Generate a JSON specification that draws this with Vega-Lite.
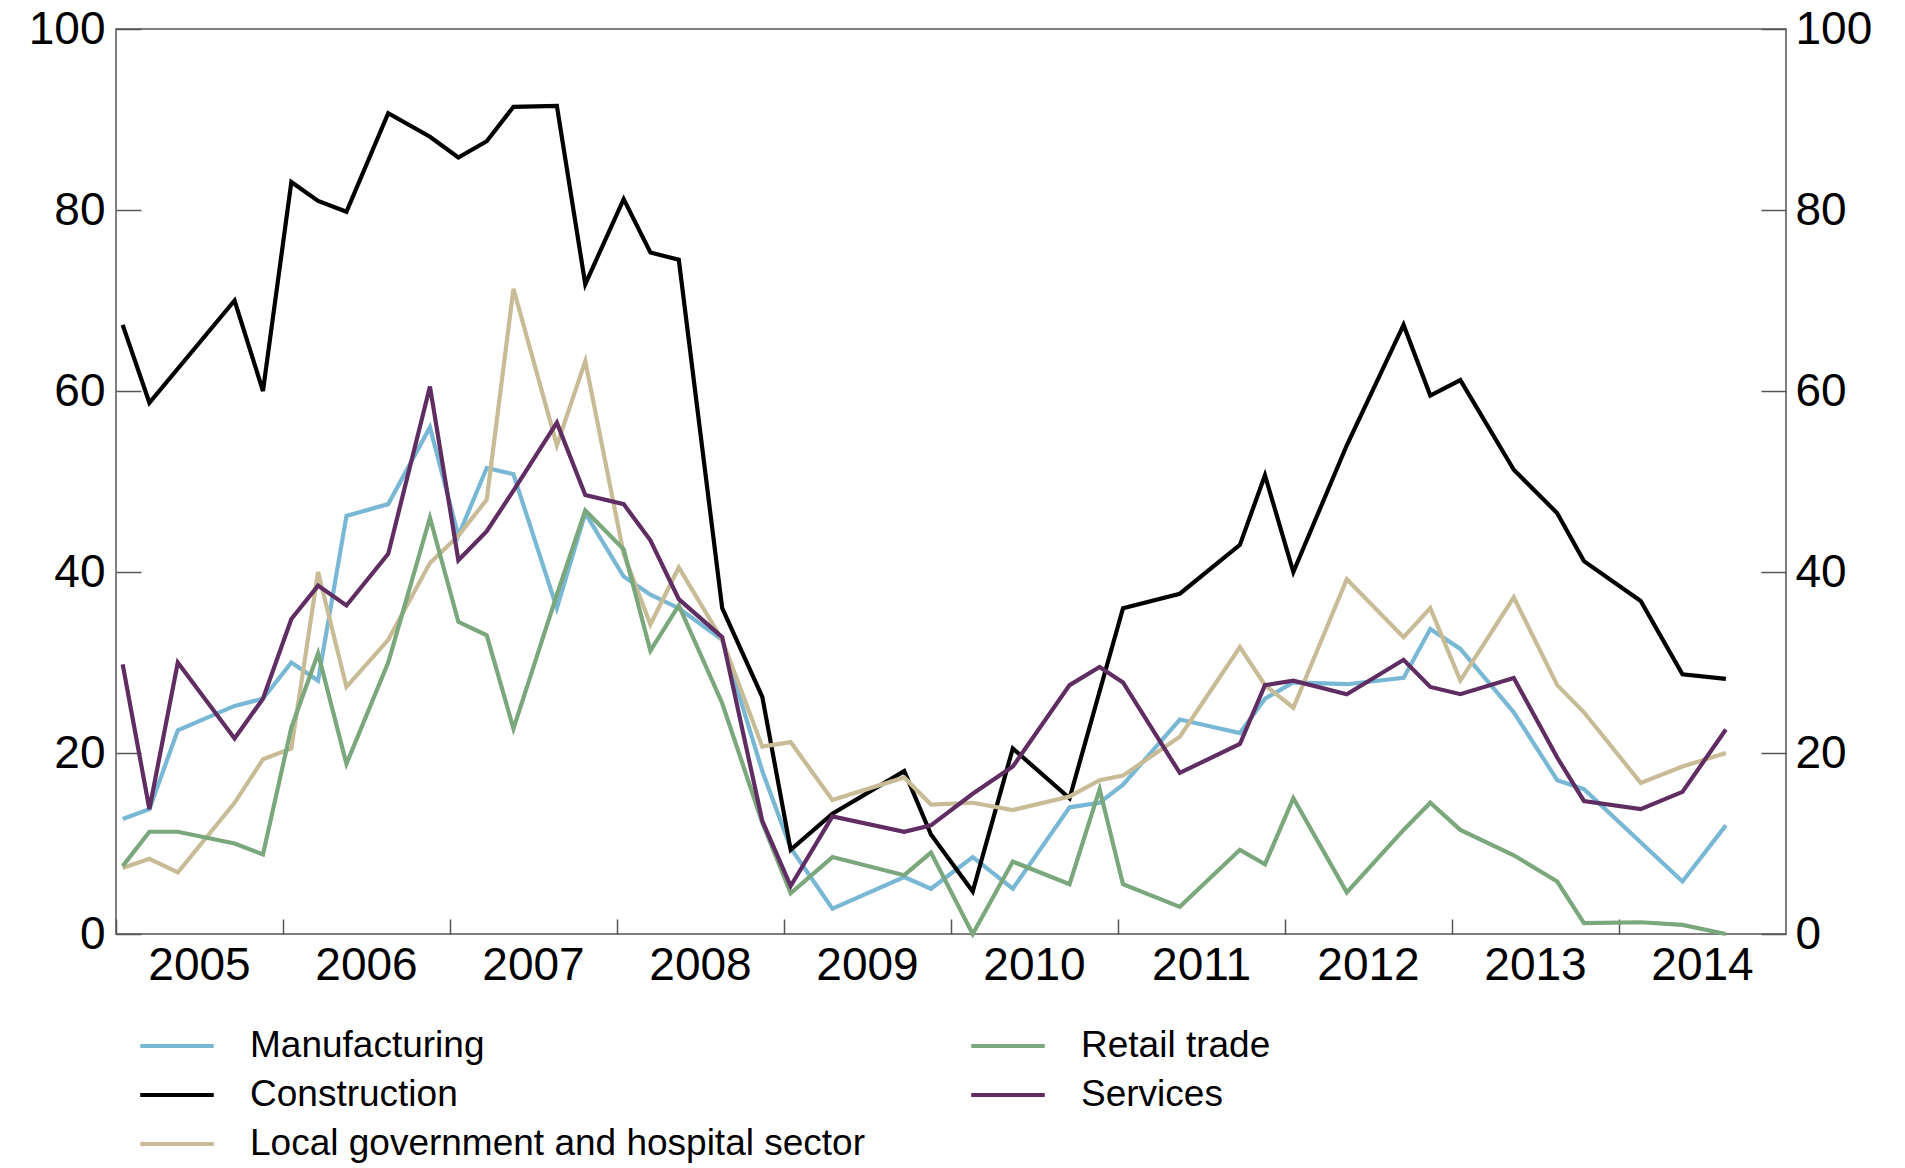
{
  "$schema": "https://vega.github.io/schema/vega-lite/v6.json",
  "width": 1670,
  "height": 905,
  "autosize": "none",
  "padding": {"left": 116, "top": 29, "right": 119, "bottom": 234},
  "config": {
    "font": "Liberation Sans",
    "view": {"stroke": "#555555", "strokeWidth": 1.5},
    "axis": {"grid": false, "domain": false, "labelFont": "Liberation Sans", "labelColor": "#000000", "labelFontSize": 46, "tickColor": "#555555", "tickWidth": 1.5, "title": null}
  },
  "data": {
    "values": [
      {"t": 2005.04, "s": "Manufacturing", "v": 12.7}, {"t": 2005.2, "s": "Manufacturing", "v": 13.8}, {"t": 2005.37, "s": "Manufacturing", "v": 22.5}, {"t": 2005.71, "s": "Manufacturing", "v": 25.2}, {"t": 2005.88, "s": "Manufacturing", "v": 26}, {"t": 2006.05, "s": "Manufacturing", "v": 30}, {"t": 2006.21, "s": "Manufacturing", "v": 28}, {"t": 2006.38, "s": "Manufacturing", "v": 46.2}, {"t": 2006.63, "s": "Manufacturing", "v": 47.5}, {"t": 2006.88, "s": "Manufacturing", "v": 56}, {"t": 2007.05, "s": "Manufacturing", "v": 44}, {"t": 2007.22, "s": "Manufacturing", "v": 51.5}, {"t": 2007.38, "s": "Manufacturing", "v": 50.8}, {"t": 2007.64, "s": "Manufacturing", "v": 36}, {"t": 2007.81, "s": "Manufacturing", "v": 46.5}, {"t": 2008.04, "s": "Manufacturing", "v": 39.5}, {"t": 2008.2, "s": "Manufacturing", "v": 37.5}, {"t": 2008.37, "s": "Manufacturing", "v": 36}, {"t": 2008.63, "s": "Manufacturing", "v": 32.5}, {"t": 2008.87, "s": "Manufacturing", "v": 18}, {"t": 2009.04, "s": "Manufacturing", "v": 9.5}, {"t": 2009.29, "s": "Manufacturing", "v": 2.8}, {"t": 2009.72, "s": "Manufacturing", "v": 6.3}, {"t": 2009.88, "s": "Manufacturing", "v": 5}, {"t": 2010.13, "s": "Manufacturing", "v": 8.5}, {"t": 2010.37, "s": "Manufacturing", "v": 5}, {"t": 2010.71, "s": "Manufacturing", "v": 14}, {"t": 2010.89, "s": "Manufacturing", "v": 14.5}, {"t": 2011.03, "s": "Manufacturing", "v": 16.5}, {"t": 2011.37, "s": "Manufacturing", "v": 23.7}, {"t": 2011.73, "s": "Manufacturing", "v": 22.2}, {"t": 2011.88, "s": "Manufacturing", "v": 26}, {"t": 2012.05, "s": "Manufacturing", "v": 27.8}, {"t": 2012.37, "s": "Manufacturing", "v": 27.6}, {"t": 2012.71, "s": "Manufacturing", "v": 28.3}, {"t": 2012.87, "s": "Manufacturing", "v": 33.7}, {"t": 2013.05, "s": "Manufacturing", "v": 31.5}, {"t": 2013.37, "s": "Manufacturing", "v": 24.5}, {"t": 2013.63, "s": "Manufacturing", "v": 17}, {"t": 2013.79, "s": "Manufacturing", "v": 16}, {"t": 2014.38, "s": "Manufacturing", "v": 5.8}, {"t": 2014.64, "s": "Manufacturing", "v": 12},

      {"t": 2005.04, "s": "Construction", "v": 67.3}, {"t": 2005.2, "s": "Construction", "v": 58.7}, {"t": 2005.71, "s": "Construction", "v": 70}, {"t": 2005.88, "s": "Construction", "v": 60}, {"t": 2006.05, "s": "Construction", "v": 83.1}, {"t": 2006.21, "s": "Construction", "v": 81}, {"t": 2006.38, "s": "Construction", "v": 79.8}, {"t": 2006.63, "s": "Construction", "v": 90.7}, {"t": 2006.88, "s": "Construction", "v": 88.1}, {"t": 2007.05, "s": "Construction", "v": 85.8}, {"t": 2007.22, "s": "Construction", "v": 87.6}, {"t": 2007.38, "s": "Construction", "v": 91.4}, {"t": 2007.64, "s": "Construction", "v": 91.5}, {"t": 2007.81, "s": "Construction", "v": 71.8}, {"t": 2008.04, "s": "Construction", "v": 81.2}, {"t": 2008.2, "s": "Construction", "v": 75.3}, {"t": 2008.37, "s": "Construction", "v": 74.5}, {"t": 2008.63, "s": "Construction", "v": 36}, {"t": 2008.87, "s": "Construction", "v": 26.2}, {"t": 2009.04, "s": "Construction", "v": 9.3}, {"t": 2009.29, "s": "Construction", "v": 13.3}, {"t": 2009.72, "s": "Construction", "v": 18}, {"t": 2009.88, "s": "Construction", "v": 11}, {"t": 2010.13, "s": "Construction", "v": 4.7}, {"t": 2010.37, "s": "Construction", "v": 20.5}, {"t": 2010.71, "s": "Construction", "v": 15}, {"t": 2011.03, "s": "Construction", "v": 36}, {"t": 2011.37, "s": "Construction", "v": 37.6}, {"t": 2011.73, "s": "Construction", "v": 43}, {"t": 2011.88, "s": "Construction", "v": 50.7}, {"t": 2012.05, "s": "Construction", "v": 40}, {"t": 2012.37, "s": "Construction", "v": 54}, {"t": 2012.71, "s": "Construction", "v": 67.3}, {"t": 2012.87, "s": "Construction", "v": 59.5}, {"t": 2013.05, "s": "Construction", "v": 61.2}, {"t": 2013.37, "s": "Construction", "v": 51.3}, {"t": 2013.63, "s": "Construction", "v": 46.5}, {"t": 2013.79, "s": "Construction", "v": 41.2}, {"t": 2014.13, "s": "Construction", "v": 36.8}, {"t": 2014.38, "s": "Construction", "v": 28.7}, {"t": 2014.64, "s": "Construction", "v": 28.2},

      {"t": 2005.04, "s": "Local government and hospital sector", "v": 7.3}, {"t": 2005.2, "s": "Local government and hospital sector", "v": 8.3}, {"t": 2005.37, "s": "Local government and hospital sector", "v": 6.8}, {"t": 2005.71, "s": "Local government and hospital sector", "v": 14.5}, {"t": 2005.88, "s": "Local government and hospital sector", "v": 19.3}, {"t": 2006.05, "s": "Local government and hospital sector", "v": 20.5}, {"t": 2006.21, "s": "Local government and hospital sector", "v": 40}, {"t": 2006.38, "s": "Local government and hospital sector", "v": 27.3}, {"t": 2006.63, "s": "Local government and hospital sector", "v": 32.5}, {"t": 2006.88, "s": "Local government and hospital sector", "v": 41}, {"t": 2007.05, "s": "Local government and hospital sector", "v": 44}, {"t": 2007.22, "s": "Local government and hospital sector", "v": 48}, {"t": 2007.38, "s": "Local government and hospital sector", "v": 71.3}, {"t": 2007.64, "s": "Local government and hospital sector", "v": 54}, {"t": 2007.81, "s": "Local government and hospital sector", "v": 63.3}, {"t": 2008.04, "s": "Local government and hospital sector", "v": 42}, {"t": 2008.2, "s": "Local government and hospital sector", "v": 34.2}, {"t": 2008.37, "s": "Local government and hospital sector", "v": 40.5}, {"t": 2008.63, "s": "Local government and hospital sector", "v": 32.5}, {"t": 2008.87, "s": "Local government and hospital sector", "v": 20.7}, {"t": 2009.04, "s": "Local government and hospital sector", "v": 21.2}, {"t": 2009.29, "s": "Local government and hospital sector", "v": 14.8}, {"t": 2009.72, "s": "Local government and hospital sector", "v": 17.3}, {"t": 2009.88, "s": "Local government and hospital sector", "v": 14.3}, {"t": 2010.13, "s": "Local government and hospital sector", "v": 14.5}, {"t": 2010.37, "s": "Local government and hospital sector", "v": 13.7}, {"t": 2010.71, "s": "Local government and hospital sector", "v": 15.2}, {"t": 2010.89, "s": "Local government and hospital sector", "v": 17}, {"t": 2011.03, "s": "Local government and hospital sector", "v": 17.5}, {"t": 2011.37, "s": "Local government and hospital sector", "v": 21.8}, {"t": 2011.73, "s": "Local government and hospital sector", "v": 31.7}, {"t": 2011.88, "s": "Local government and hospital sector", "v": 27.5}, {"t": 2012.05, "s": "Local government and hospital sector", "v": 25}, {"t": 2012.37, "s": "Local government and hospital sector", "v": 39.2}, {"t": 2012.71, "s": "Local government and hospital sector", "v": 32.8}, {"t": 2012.87, "s": "Local government and hospital sector", "v": 36}, {"t": 2013.05, "s": "Local government and hospital sector", "v": 28}, {"t": 2013.37, "s": "Local government and hospital sector", "v": 37.2}, {"t": 2013.63, "s": "Local government and hospital sector", "v": 27.5}, {"t": 2013.79, "s": "Local government and hospital sector", "v": 24.5}, {"t": 2014.13, "s": "Local government and hospital sector", "v": 16.7}, {"t": 2014.38, "s": "Local government and hospital sector", "v": 18.5}, {"t": 2014.64, "s": "Local government and hospital sector", "v": 20},

      {"t": 2005.04, "s": "Retail trade", "v": 7.5}, {"t": 2005.2, "s": "Retail trade", "v": 11.3}, {"t": 2005.37, "s": "Retail trade", "v": 11.3}, {"t": 2005.71, "s": "Retail trade", "v": 10}, {"t": 2005.88, "s": "Retail trade", "v": 8.8}, {"t": 2006.05, "s": "Retail trade", "v": 22.8}, {"t": 2006.21, "s": "Retail trade", "v": 31}, {"t": 2006.38, "s": "Retail trade", "v": 18.8}, {"t": 2006.63, "s": "Retail trade", "v": 30}, {"t": 2006.88, "s": "Retail trade", "v": 46}, {"t": 2007.05, "s": "Retail trade", "v": 34.5}, {"t": 2007.22, "s": "Retail trade", "v": 33}, {"t": 2007.38, "s": "Retail trade", "v": 22.7}, {"t": 2007.64, "s": "Retail trade", "v": 37.5}, {"t": 2007.81, "s": "Retail trade", "v": 46.8}, {"t": 2008.04, "s": "Retail trade", "v": 42.5}, {"t": 2008.2, "s": "Retail trade", "v": 31.3}, {"t": 2008.37, "s": "Retail trade", "v": 36.3}, {"t": 2008.63, "s": "Retail trade", "v": 25.5}, {"t": 2008.87, "s": "Retail trade", "v": 12.3}, {"t": 2009.04, "s": "Retail trade", "v": 4.5}, {"t": 2009.29, "s": "Retail trade", "v": 8.5}, {"t": 2009.72, "s": "Retail trade", "v": 6.5}, {"t": 2009.88, "s": "Retail trade", "v": 9}, {"t": 2010.13, "s": "Retail trade", "v": 0}, {"t": 2010.37, "s": "Retail trade", "v": 8}, {"t": 2010.71, "s": "Retail trade", "v": 5.5}, {"t": 2010.89, "s": "Retail trade", "v": 16}, {"t": 2011.03, "s": "Retail trade", "v": 5.5}, {"t": 2011.37, "s": "Retail trade", "v": 3}, {"t": 2011.73, "s": "Retail trade", "v": 9.3}, {"t": 2011.88, "s": "Retail trade", "v": 7.7}, {"t": 2012.05, "s": "Retail trade", "v": 15}, {"t": 2012.37, "s": "Retail trade", "v": 4.6}, {"t": 2012.71, "s": "Retail trade", "v": 11.5}, {"t": 2012.87, "s": "Retail trade", "v": 14.5}, {"t": 2013.05, "s": "Retail trade", "v": 11.5}, {"t": 2013.37, "s": "Retail trade", "v": 8.7}, {"t": 2013.63, "s": "Retail trade", "v": 5.8}, {"t": 2013.79, "s": "Retail trade", "v": 1.2}, {"t": 2014.13, "s": "Retail trade", "v": 1.3}, {"t": 2014.38, "s": "Retail trade", "v": 1}, {"t": 2014.64, "s": "Retail trade", "v": 0},

      {"t": 2005.04, "s": "Services", "v": 29.8}, {"t": 2005.2, "s": "Services", "v": 13.8}, {"t": 2005.37, "s": "Services", "v": 30}, {"t": 2005.71, "s": "Services", "v": 21.6}, {"t": 2005.88, "s": "Services", "v": 26}, {"t": 2006.05, "s": "Services", "v": 34.8}, {"t": 2006.21, "s": "Services", "v": 38.5}, {"t": 2006.38, "s": "Services", "v": 36.3}, {"t": 2006.63, "s": "Services", "v": 42}, {"t": 2006.88, "s": "Services", "v": 60.5}, {"t": 2007.05, "s": "Services", "v": 41.3}, {"t": 2007.22, "s": "Services", "v": 44.5}, {"t": 2007.38, "s": "Services", "v": 49}, {"t": 2007.64, "s": "Services", "v": 56.5}, {"t": 2007.81, "s": "Services", "v": 48.5}, {"t": 2008.04, "s": "Services", "v": 47.5}, {"t": 2008.2, "s": "Services", "v": 43.5}, {"t": 2008.37, "s": "Services", "v": 37}, {"t": 2008.63, "s": "Services", "v": 32.8}, {"t": 2008.87, "s": "Services", "v": 12.5}, {"t": 2009.04, "s": "Services", "v": 5.3}, {"t": 2009.29, "s": "Services", "v": 13}, {"t": 2009.72, "s": "Services", "v": 11.3}, {"t": 2009.88, "s": "Services", "v": 12}, {"t": 2010.13, "s": "Services", "v": 15.5}, {"t": 2010.37, "s": "Services", "v": 18.5}, {"t": 2010.71, "s": "Services", "v": 27.5}, {"t": 2010.89, "s": "Services", "v": 29.5}, {"t": 2011.03, "s": "Services", "v": 27.8}, {"t": 2011.37, "s": "Services", "v": 17.8}, {"t": 2011.73, "s": "Services", "v": 21}, {"t": 2011.88, "s": "Services", "v": 27.5}, {"t": 2012.05, "s": "Services", "v": 28}, {"t": 2012.37, "s": "Services", "v": 26.5}, {"t": 2012.71, "s": "Services", "v": 30.3}, {"t": 2012.87, "s": "Services", "v": 27.3}, {"t": 2013.05, "s": "Services", "v": 26.5}, {"t": 2013.37, "s": "Services", "v": 28.3}, {"t": 2013.63, "s": "Services", "v": 19.5}, {"t": 2013.79, "s": "Services", "v": 14.7}, {"t": 2014.13, "s": "Services", "v": 13.8}, {"t": 2014.38, "s": "Services", "v": 15.7}, {"t": 2014.64, "s": "Services", "v": 22.6}
    ]
  },
  "encoding": {
    "x": {
      "field": "t",
      "type": "quantitative",
      "scale": {"domain": [2005, 2015], "nice": false, "zero": false},
      "axis": {
        "values": [2005, 2006, 2007, 2008, 2009, 2010, 2011, 2012, 2013, 2014],
        "format": "d",
        "labelOffset": 83,
        "labelFlush": false,
        "labelAlign": "center",
        "tickSize": -15,
        "labelPadding": 24
      }
    }
  },
  "layer": [
    {
      "mark": {"type": "line", "strokeWidth": 4.2},
      "encoding": {
        "y": {
          "field": "v",
          "type": "quantitative",
          "scale": {"domain": [0, 100], "nice": false},
          "axis": {"orient": "left", "values": [0, 20, 40, 60, 80, 100], "tickSize": -25, "labelPadding": 36}
        },
        "color": {
          "field": "s",
          "type": "nominal",
          "scale": {
            "domain": ["Manufacturing", "Construction", "Local government and hospital sector", "Retail trade", "Services"],
            "range": ["#78b8d4", "#000000", "#c8bc96", "#7aa77c", "#5f2d61"]
          },
          "legend": {
            "orient": "none",
            "legendX": 34,
            "legendY": 990,
            "title": null,
            "columns": 2,
            "columnPadding": 97,
            "rowPadding": 4,
            "symbolType": "M-1.5,0H1.5",
            "symbolSize": 2400,
            "symbolStrokeWidth": 4.2,
            "labelFontSize": 37,
            "labelLimit": 1000,
            "labelFont": "Liberation Sans",
            "labelOffset": 46,
            "labelColor": "#000000"
          }
        }
      }
    },
    {
      "mark": {"type": "line", "opacity": 0},
      "encoding": {
        "y": {
          "field": "v",
          "type": "quantitative",
          "scale": {"domain": [0, 100], "nice": false},
          "axis": {"orient": "right", "values": [0, 20, 40, 60, 80, 100], "tickSize": -25, "labelPadding": 34}
        },
        "detail": {"field": "s"}
      }
    }
  ],
  "resolve": {"scale": {"y": "independent"}}
}
